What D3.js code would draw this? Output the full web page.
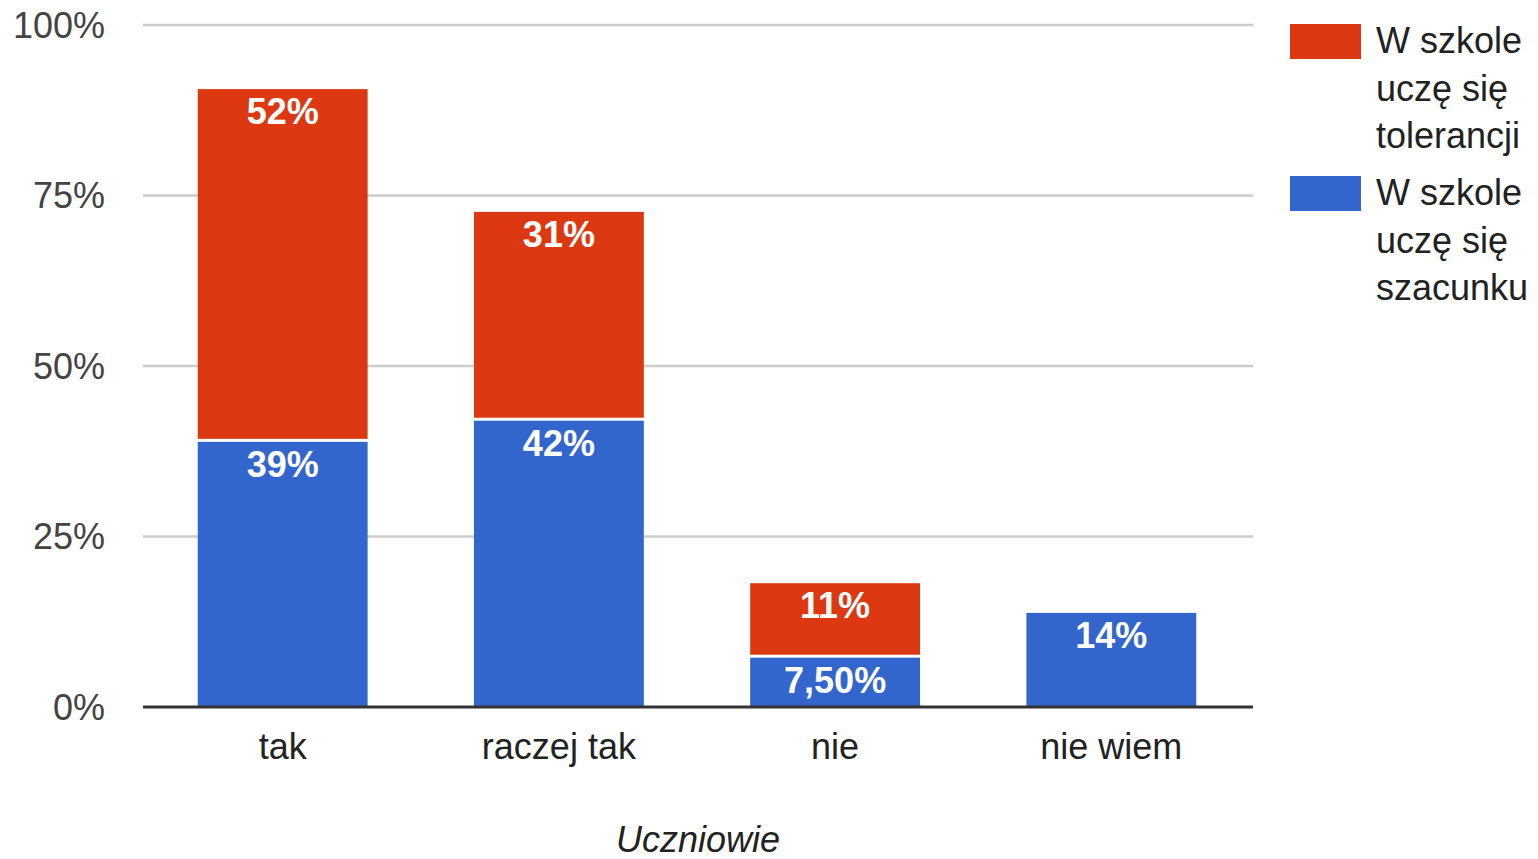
<!DOCTYPE html>
<html>
<head>
<meta charset="utf-8">
<script src="https://cdn.jsdelivr.net/npm/d3@7"></script>
<style>
    body { margin: 0; background: #fff; }
    svg { display: block; font-family: "Liberation Sans", Arial, sans-serif; }
</style>
</head>
<body>
<svg id="svg" width="1538" height="859"></svg>
<script>
var categories = ['tak', 'raczej tak', 'nie', 'nie wiem'],
    szacunku = [39.1, 42.2, 7.45, 13.8],
    tolerancji = [51.5, 30.4, 10.7, 0],
    szacunkuLabels = ['39%', '42%', '7,50%', '14%'],
    tolerancjiLabels = ['52%', '31%', '11%', ''],
    yTicks = [0, 25, 50, 75, 100],
    seriesNames = [
        ['W szkole', 'uczę się', 'tolerancji'],
        ['W szkole', 'uczę się', 'szacunku']
    ],
    colors = ['#dc3912', '#3366cc'];

var $svg = d3.select('#svg');

var x = d3.scaleBand()
    .domain(categories)
    .range([142.5, 1251.5])
    .paddingInner(0.385)
    .paddingOuter(0.2);

var y = d3.scaleLinear()
    .domain([0, 100])
    .range([707, 25]);

// grid
var $grid = $svg.append('g').classed('grid', true);
yTicks.forEach(function (t) {
    if (t === 0) return;
    $grid.append('line')
        .attr('x1', 143).attr('x2', 1253)
        .attr('y1', y(t)).attr('y2', y(t))
        .attr('stroke', '#cccccc')
        .attr('stroke-width', 2.4);
});

// y labels
$svg.append('g')
    .selectAll('text')
    .data(yTicks)
    .join('text')
    .attr('x', 105)
    .attr('y', function (d) { return y(d); })
    .attr('dy', '0.36em')
    .attr('text-anchor', 'end')
    .attr('font-size', 36)
    .attr('fill', '#444')
    .text(function (d) { return d + '%'; });

// bars
var gap = 1.5;
var stacks = categories.map(function (c, i) {
    return {
        cat: c,
        segs: [
            { y0: 0, y1: szacunku[i], color: colors[1], label: szacunkuLabels[i], top: tolerancji[i] === 0 },
            { y0: szacunku[i], y1: szacunku[i] + tolerancji[i], color: colors[0], label: tolerancjiLabels[i], top: true }
        ].filter(function (s) { return s.y1 > s.y0; })
    };
});

var $bars = $svg.append('g').classed('bars', true);
stacks.forEach(function (st) {
    st.segs.forEach(function (s) {
        var top = y(s.y1) + (s.top ? 0 : gap),
            bottom = y(s.y0) - (s.y0 > 0 ? gap : 0);
        $bars.append('rect')
            .attr('x', x(st.cat))
            .attr('width', x.bandwidth())
            .attr('y', top)
            .attr('height', bottom - top)
            .attr('fill', s.color);
        $bars.append('text')
            .attr('x', x(st.cat) + x.bandwidth() / 2)
            .attr('y', top + 35)
            .attr('text-anchor', 'middle')
            .attr('font-size', 36)
            .attr('font-weight', 'bold')
            .attr('fill', '#fff')
            .text(s.label);
    });
});

// baseline
$svg.append('line')
    .attr('x1', 143).attr('x2', 1253)
    .attr('y1', y(0)).attr('y2', y(0))
    .attr('stroke', '#333')
    .attr('stroke-width', 3);

// x labels
$svg.append('g')
    .selectAll('text')
    .data(categories)
    .join('text')
    .attr('x', function (d) { return x(d) + x.bandwidth() / 2; })
    .attr('y', 759)
    .attr('text-anchor', 'middle')
    .attr('font-size', 36)
    .attr('fill', '#222')
    .text(function (d) { return d; });

// axis title
$svg.append('text')
    .attr('x', 698)
    .attr('y', 852)
    .attr('text-anchor', 'middle')
    .attr('font-size', 36)
    .attr('font-style', 'italic')
    .attr('fill', '#222')
    .text('Uczniowie');

// legend
var $legend = $svg.append('g').classed('legend', true);
seriesNames.forEach(function (lines, i) {
    var y0 = 24 + i * 152;
    $legend.append('rect')
        .attr('x', 1290).attr('y', y0)
        .attr('width', 71).attr('height', 35)
        .attr('fill', colors[i]);
    var $t = $legend.append('text')
        .attr('x', 1376)
        .attr('y', y0 + 29)
        .attr('font-size', 36)
        .attr('fill', '#222');
    lines.forEach(function (l, j) {
        $t.append('tspan')
            .attr('x', 1376)
            .attr('dy', j === 0 ? 0 : 47.5)
            .text(l);
    });
});
</script>
</body>
</html>
